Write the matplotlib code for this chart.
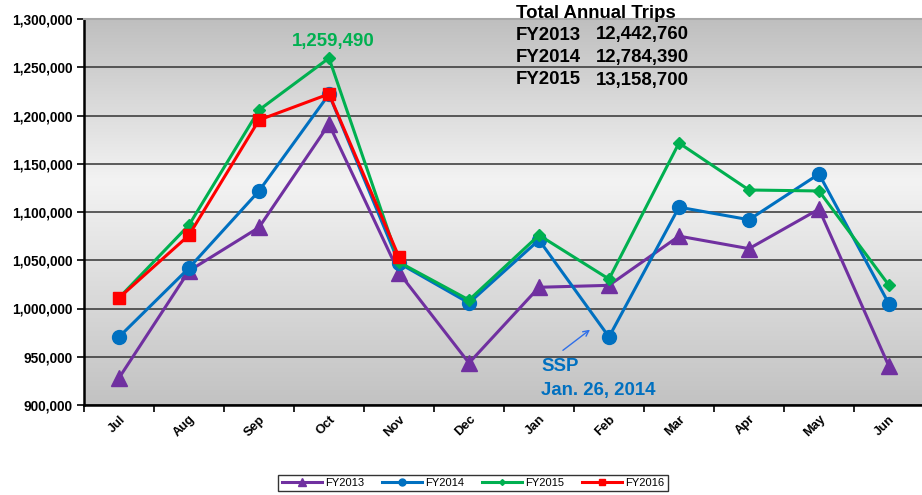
import numpy as np
import matplotlib.pyplot as plt
from matplotlib.lines import Line2D
from matplotlib.colors import LinearSegmentedColormap

# ---- data ----
months = ["Jul", "Aug", "Sep", "Oct", "Nov", "Dec",
          "Jan", "Feb", "Mar", "Apr", "May", "Jun"]

fy2013 = [928000, 1039000, 1084000, 1191000, 1037000, 943500,
          1022000, 1024000, 1075000, 1062000, 1103000, 940000]
fy2014 = [970500, 1042000, 1121800, 1222000, 1047000, 1005700,
          1071000, 970500, 1105000, 1092000, 1139400, 1004700]
fy2015 = [1011000, 1086500, 1205700, 1259490, 1048000, 1008800,
          1076000, 1030500, 1171500, 1122800, 1121800, 1024000]
fy2016 = [1011000, 1076000, 1195300, 1222300, 1053400]

totals_years = ["FY2013", "FY2014", "FY2015"]
totals_values = ["12,442,760", "12,784,390", "13,158,700"]

PURPLE = "#7030A0"
BLUE = "#0070C0"
GREEN = "#00B050"
RED = "#FF0000"

plt.rcParams["font.family"] = ["Liberation Sans", "DejaVu Sans"]

fig = plt.figure(figsize=(9.22, 4.95), dpi=100)
W, H = 922, 495
ax = fig.add_axes([84 / W, (H - 405) / H, 840 / W, 386 / H])

# gradient background: gray - light - gray
cmap = LinearSegmentedColormap.from_list(
    "bg", [(0.0, "#c2c2c2"), (0.58, "#f3f3f3"), (1.0, "#bfbfbf")])
grad = np.linspace(0, 1, 256).reshape(-1, 1)
ax.imshow(grad, cmap=cmap, aspect="auto", extent=[0, 1, 0, 1],
          origin="lower", transform=ax.transAxes, zorder=0)

x = np.arange(len(months))
ax.plot(x, fy2013, color=PURPLE, lw=2.2, marker="^", ms=11, zorder=3)
ax.plot(x, fy2014, color=BLUE, lw=2.2, marker="o", ms=10, zorder=4)
ax.plot(x, fy2015, color=GREEN, lw=2.2, marker="D", ms=6, zorder=5)
ax.plot(x[:len(fy2016)], fy2016, color=RED, lw=2.2, marker="s", ms=9, zorder=6)

ax.set_xlim(-0.5, 11.5)
ax.set_ylim(900000, 1300000)
ax.set_yticks(np.arange(900000, 1300001, 50000))
ax.set_yticklabels([f"{v:,}" for v in range(900000, 1300001, 50000)],
                   fontsize=9.8, fontweight="bold")
ax.yaxis.grid(True, color="#333333", lw=1.1, zorder=1)
ax.set_axisbelow(True)

ax.set_xticks(x)
ax.set_xticklabels(months, rotation=45, ha="right", rotation_mode="anchor",
                   fontsize=9.3, fontweight="bold")
ax.set_xticks(np.arange(-0.5, 12, 1), minor=True)
ax.tick_params(axis="x", which="major", length=0, pad=6)
ax.tick_params(axis="x", which="minor", length=5, width=1.2)
ax.tick_params(axis="y", length=5, width=1.2, pad=3)

for s in ["left", "bottom"]:
    ax.spines[s].set_linewidth(1.8)
    ax.spines[s].set_color("black")
ax.spines["top"].set_color("#a8a8a8")
ax.spines["top"].set_linewidth(1.5)
ax.spines["right"].set_visible(False)

# annotations
ax.text(3.06, 1277000, "1,259,490", color=GREEN, fontsize=13.4,
        fontweight="bold", ha="center", va="center")
ax.annotate("", xy=(6.76, 979800), xytext=(6.31, 954900),
            arrowprops=dict(arrowstyle="->", color="#2F6FE8", lw=1))
ax.text(6.03, 939400, "SSP", color=BLUE, fontsize=13.4, fontweight="bold",
        ha="left", va="center")
ax.text(6.03, 915500, "Jan. 26, 2014", color=BLUE, fontsize=13.4,
        fontweight="bold", ha="left", va="center")

fig.text(516 / W, 1 - 13 / H, "Total Annual Trips", fontsize=13.4,
         fontweight="bold", ha="left", va="center")
for i, (yr, val) in enumerate(zip(totals_years, totals_values)):
    yy = 1 - (35 + 22.5 * i) / H
    fig.text(516 / W, yy, yr, fontsize=13.4, fontweight="bold",
             ha="left", va="center")
    fig.text(596 / W, yy, val, fontsize=13.4, fontweight="bold",
             ha="left", va="center")

# legend
handles = [
    Line2D([], [], color=PURPLE, lw=2.2, marker="^", ms=6),
    Line2D([], [], color=BLUE, lw=2.2, marker="o", ms=5),
    Line2D([], [], color=GREEN, lw=2.2, marker="D", ms=3),
    Line2D([], [], color=RED, lw=2.2, marker="s", ms=4.5),
]
leg = fig.legend(handles, ["FY2013", "FY2014", "FY2015", "FY2016"],
                 loc="center", bbox_to_anchor=(473 / W, 1 - 483 / H),
                 ncol=4, fontsize=8, frameon=True, fancybox=False,
                 handlelength=3.6, columnspacing=1.6, handletextpad=0.3,
                 borderpad=0.3)
leg.get_frame().set_edgecolor("black")
leg.get_frame().set_linewidth(1)

fig.savefig("out.png", dpi=100)
